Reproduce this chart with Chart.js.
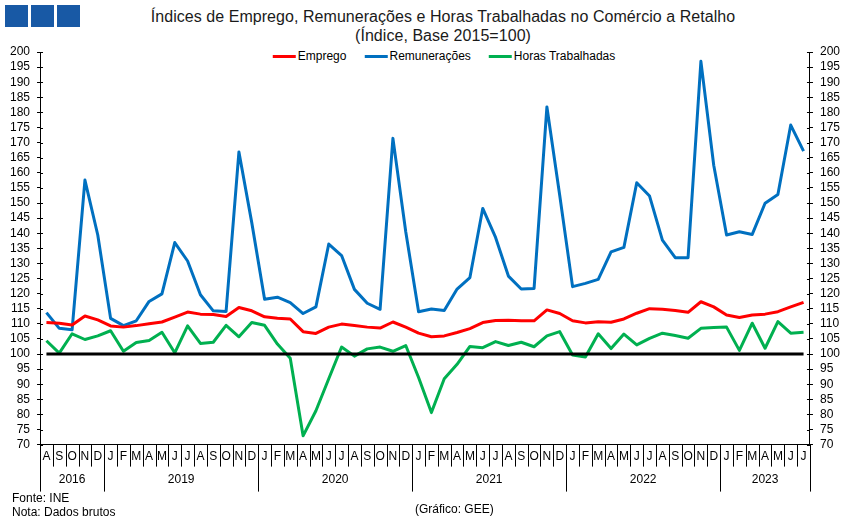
<!DOCTYPE html>
<html>
<head>
<meta charset="utf-8">
<script src="https://cdn.jsdelivr.net/npm/chart.js@4/dist/chart.umd.min.js"></script>
<style>
  html, body { margin: 0; padding: 0; background: #fff; overflow: hidden; }
  body { width: 851px; height: 524px; position: relative; font-family: "Liberation Sans", Arial, sans-serif; color: #000; }
  #grafico { position: absolute; left: 0; top: 0; }
  .quadrado { position: absolute; top: 5px; width: 23px; height: 22px; background: #1859a5; }
  #titulo { position: absolute; left: 443px; top: 7px; transform: translateX(-50%); white-space: nowrap;
            text-align: center; font-size: 16px; line-height: 19px; color: #1a1a1a; letter-spacing: 0.05px; }
  #legenda { position: absolute; left: 444px; top: 49px; transform: translateX(-50%); white-space: nowrap;
             display: flex; align-items: center; font-size: 12px; }
  #legenda .item { display: flex; align-items: center; margin: 0 9px; }
  #legenda .traco { width: 23px; height: 3px; margin-right: 2px; }
  .nota { position: absolute; font-size: 12px; line-height: 14px; }
</style>
</head>
<body>
<div class="quadrado" style="left:5px"></div>
<div class="quadrado" style="left:31px"></div>
<div class="quadrado" style="left:57px"></div>
<div id="titulo">Índices de Emprego, Remunerações e Horas Trabalhadas no Comércio a Retalho<br>(Índice, Base 2015=100)</div>
<div id="legenda"></div>
<canvas id="grafico" width="851" height="524"></canvas>
<div class="nota" style="left:12px; top:491px">Fonte: INE</div>
<div class="nota" style="left:12px; top:505px">Nota: Dados brutos</div>
<div class="nota" style="left:415px; top:502px">(Gráfico: GEE)</div>
<script>
// anos e meses do eixo horizontal
const anos = ['2016', '2019', '2020', '2021', '2022', '2023'];
const mesesAno = ['ASOND', 'JFMAMJJASOND', 'JFMAMJJASOND', 'JFMAMJJASOND', 'JFMAMJJASOND', 'JFMAMJJ'];

const emprego = [
    110.4, 110.2, 109.6, 112.6, 111.3,
    109.3, 108.9, 109.4, 110.0, 110.6, 112.2, 113.9, 113.2, 113.1, 112.4, 115.4, 114.3,
    112.3, 111.8, 111.6, 107.4, 106.8, 108.9, 109.9, 109.4, 108.9, 108.6, 110.6, 108.9,
    106.9, 105.7, 106.0, 107.1, 108.4, 110.4, 111.1, 111.2, 111.0, 111.0, 114.6, 113.4,
    111.0, 110.3, 110.7, 110.5, 111.6, 113.5, 115.0, 114.8, 114.4, 113.8, 117.3, 115.6,
    112.9, 112.1, 112.9, 113.2, 114.0, 115.6, 117.1
];
const remuneracoes = [
    113.7, 108.5, 108.0, 157.6, 139.4,
    111.8, 109.4, 111.0, 117.4, 119.9, 136.9, 130.8, 119.6, 114.3, 114.1, 166.9, 143.5,
    118.1, 118.8, 117.0, 113.4, 115.6, 136.4, 132.6, 121.4, 116.8, 114.8, 171.4, 140.5,
    114.0, 114.9, 114.4, 121.5, 125.3, 148.2, 138.6, 125.8, 121.5, 121.7, 181.8, 152.5,
    122.3, 123.4, 124.7, 133.8, 135.3, 156.7, 152.3, 137.7, 131.9, 131.9, 196.9, 162.5,
    139.4, 140.5, 139.6, 149.9, 152.8, 175.8, 167.2
];
const horasTrabalhadas = [
    104.4, 100.3, 106.7, 104.8, 106.0,
    107.7, 100.9, 103.8, 104.5, 107.2, 100.4, 109.3, 103.5, 103.9, 109.5, 105.7, 110.4,
    109.5, 103.3, 98.6, 72.9, 81.2, 91.8, 102.3, 99.3, 101.7, 102.3, 100.9, 102.8,
    92.2, 80.6, 91.8, 96.6, 102.5, 102.1, 104.1, 102.8, 103.9, 102.4, 106.0, 107.4,
    99.7, 99.0, 106.7, 101.8, 106.6, 103.0, 105.2, 106.9, 106.1, 105.2, 108.5, 108.8,
    108.9, 101.2, 110.2, 101.9, 110.7, 106.9, 107.2
];
const base = 100;

const categorias = [];
const anoDe = [];
mesesAno.forEach((m, k) => {
    for (const letra of m) {
        categorias.push(letra);
        anoDe.push(k);
    }
});

const series = [
    { label: 'Emprego', data: emprego, cor: '#ff0000' },
    { label: 'Remunerações', data: remuneracoes, cor: '#0070c0' },
    { label: 'Horas Trabalhadas', data: horasTrabalhadas, cor: '#00b050' }
];

// legenda
const legenda = document.getElementById('legenda');
series.forEach(s => {
    const item = document.createElement('span');
    item.className = 'item';
    item.innerHTML = '<span class="traco" style="background:' + s.cor + '"></span>' + s.label;
    legenda.appendChild(item);
});

// marcas dos eixos e linha dos anos
const eixosPlugin = {
    id: 'eixos',
    afterDraw(chart) {
        const ctx = chart.ctx;
        const area = chart.chartArea;
        const x = chart.scales.x;
        ctx.save();
        ctx.strokeStyle = '#000';
        ctx.lineWidth = 1;

        // tracinhos para dentro nos eixos verticais
        ['y', 'y2'].forEach(id => {
            const s = chart.scales[id];
            const dir = id === 'y' ? 1 : -1;
            const x0 = id === 'y' ? area.left : area.right;
            s.ticks.forEach(t => {
                const py = Math.round(s.getPixelForValue(t.value)) + 0.5;
                ctx.beginPath();
                ctx.moveTo(x0, py);
                ctx.lineTo(x0 + dir * 3, py);
                ctx.stroke();
            });
        });

        // separadores de meses e anos
        const n = categorias.length;
        const meio = (x.getPixelForValue(1) - x.getPixelForValue(0)) / 2;
        for (let i = 0; i <= n; i++) {
            const px = Math.round(i < n ? x.getPixelForValue(i) - meio : x.getPixelForValue(n - 1) + meio) + 0.5;
            const mudaAno = i === 0 || i === n || anoDe[i] !== anoDe[i - 1];
            ctx.beginPath();
            ctx.moveTo(px, area.bottom);
            ctx.lineTo(px, area.bottom + (mudaAno ? 47 : 22));
            ctx.stroke();
        }

        ctx.fillStyle = '#000';
        ctx.font = '12px "Liberation Sans", Arial, sans-serif';
        ctx.textAlign = 'center';
        ctx.textBaseline = 'middle';
        anos.forEach((ano, k) => {
            const primeiro = anoDe.indexOf(k);
            const ultimo = anoDe.lastIndexOf(k);
            const cx = (x.getPixelForValue(primeiro) + x.getPixelForValue(ultimo)) / 2;
            ctx.fillText(ano, cx, area.bottom + 35);
        });
        ctx.restore();
    }
};

const fonte = { family: '"Liberation Sans", Arial, sans-serif', size: 12 };

const eixoY = (pos) => ({
    position: pos,
    min: 70,
    max: 200,
    grid: { drawOnChartArea: false, drawTicks: true, tickLength: 3, color: '#000' },
    border: { display: true, color: '#000', width: 1 },
    ticks: { stepSize: 5, autoSkip: false, padding: 7, color: '#000', font: fonte }
});

new Chart(document.getElementById('grafico'), {
    type: 'line',
    data: {
        labels: categorias,
        datasets: [
            {
                label: 'Base',
                data: categorias.map(() => base),
                borderColor: '#000',
                borderWidth: 3,
                pointRadius: 0
            },
            ...series.map(s => ({
                label: s.label,
                data: s.data,
                borderColor: s.cor,
                backgroundColor: s.cor,
                borderWidth: 3,
                borderJoinStyle: 'round',
                pointRadius: 0,
                tension: 0
            }))
        ]
    },
    options: {
        responsive: false,
        animation: false,
        layout: { padding: { top: 52, left: 3, right: 4, bottom: 55 } },
        plugins: {
            legend: { display: false },
            title: { display: false },
            tooltip: { enabled: false }
        },
        scales: {
            x: {
                offset: true,
                grid: { display: false, drawTicks: false },
                border: { display: true, color: '#000', width: 1 },
                ticks: { autoSkip: false, maxRotation: 0, padding: 5, color: '#000', font: fonte }
            },
            y: eixoY('left'),
            y2: eixoY('right')
        }
    },
    plugins: [eixosPlugin]
});
</script>
</body>
</html>
